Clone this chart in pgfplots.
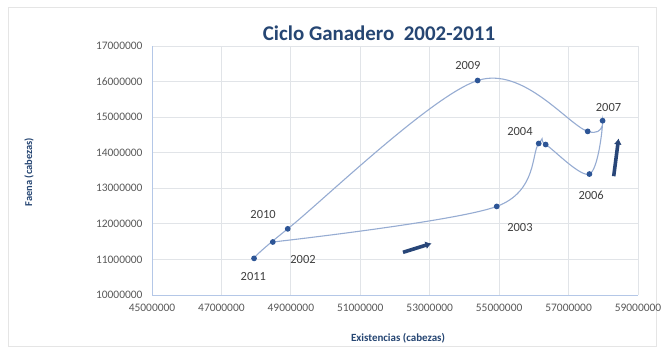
\documentclass[border=0pt]{standalone}
\usepackage{pgfplots}
\pgfplotsset{compat=1.18}
\usetikzlibrary{arrows.meta}
\usepackage{fontspec}
\setmainfont{Carlito}
\definecolor{titlec}{RGB}{38,70,115}
\definecolor{linec}{RGB}{150,172,210}
\definecolor{markc}{RGB}{45,85,150}
\definecolor{gridc}{RGB}{225,228,232}
\definecolor{axisc}{RGB}{180,199,231}
\definecolor{tickc}{RGB}{89,89,89}
\definecolor{arrowc}{RGB}{40,70,120}
\begin{document}
\begin{tikzpicture}[x=1bp,y=1bp]
\useasboundingbox (0,0) rectangle (661,351);
\fill[white] (0,0) rectangle (661,351);
\draw[gray!20] (8,5) rectangle (656,344);
\node[text=titlec, font=\fontsize{21}{23}\selectfont\bfseries] at (379,318) {Ciclo Ganadero\ \ 2002-2011};
\node[text=titlec, font=\fontsize{11}{12}\selectfont\bfseries] at (398,13) {Existencias (cabezas)};
\node[text=titlec, font=\fontsize{10.5}{12}\selectfont\bfseries, rotate=90] at (29,179) {Faena (cabezas)};
\begin{axis}[
  at={(152bp,56bp)}, anchor=south west,
  scale only axis, width=486bp, height=249bp,
  xmin=45000000, xmax=59000000, ymin=10000000, ymax=17000000,
  scaled ticks=false,
  xtick={45000000,47000000,49000000,51000000,53000000,55000000,57000000,59000000},
  xticklabels={45000000,47000000,49000000,51000000,53000000,55000000,57000000,59000000},
  ytick={10000000,11000000,12000000,13000000,14000000,15000000,16000000,17000000},
  yticklabels={10000000,11000000,12000000,13000000,14000000,15000000,16000000,17000000},
  /pgf/number format/assume math mode=true,
  tick label style={font=\fontsize{11.5}{13}\selectfont, text=tickc},
  xticklabel style={yshift=-6bp},
  yticklabel style={xshift=-6bp},
  grid=major, major grid style={gridc, line width=0.8pt},
  axis x line*=bottom, axis y line*=left,
  axis line style={axisc, line width=0.8pt, -},
  tick style={draw=none},
  clip=false,
]
\addplot[linec, line width=1.1pt, smooth, tension=0.55, mark=*, mark size=2.3pt,
  mark options={fill=markc, draw=markc}] coordinates {
  (48480000,11490000)
  (54930000,12490000)
  (56140000,14260000)
  (56340000,14230000)
  (57600000,13400000)
  (57980000,14900000)
  (57550000,14600000)
  (54380000,16030000)
  (48910000,11860000)
  (47940000,11030000)
};
\begin{scope}[font=\fontsize{12.5}{14}\selectfont, text=black!75]
\node at (axis cs:49350000,11000000) {2002};
\node at (axis cs:55600000,11900000) {2003};
\node at (axis cs:55600000,14600000) {2004};
\node at (axis cs:57650000,12800000) {2006};
\node at (axis cs:58150000,15270000) {2007};
\node at (axis cs:54100000,16460000) {2009};
\node at (axis cs:48200000,12260000) {2010};
\node at (axis cs:47920000,10520000) {2011};
\end{scope}
\draw[arrowc, line width=3.6pt, -{Latex[length=6pt,width=8pt]}] (axis cs:52230000,11200000) -- (axis cs:53050000,11450000);
\draw[arrowc, line width=3.6pt, -{Latex[length=6pt,width=8pt]}] (axis cs:58300000,13340000) -- (axis cs:58440000,14400000);
\end{axis}
\end{tikzpicture}
\end{document}
